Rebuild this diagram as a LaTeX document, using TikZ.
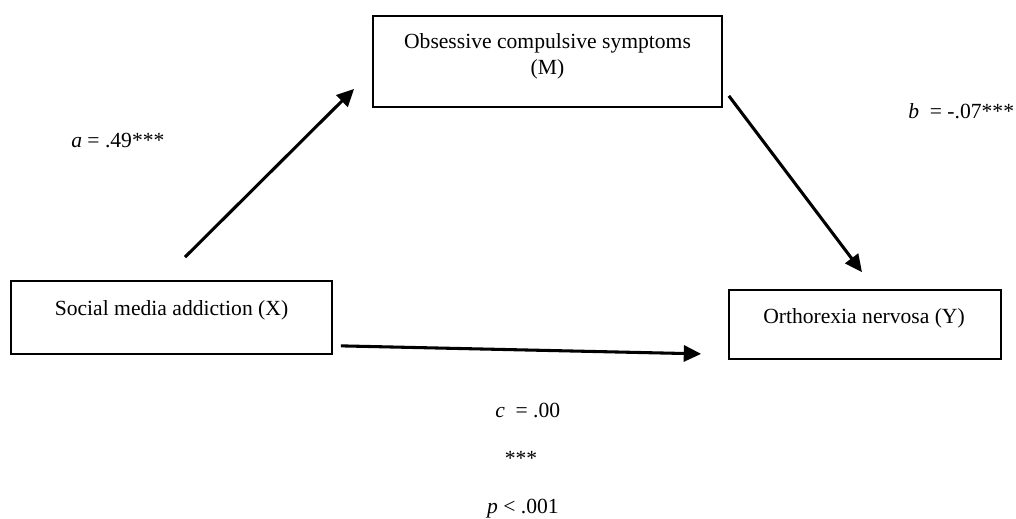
\documentclass[tikz,border=0pt]{standalone}
\usepackage{fontspec}
\setmainfont{Liberation Serif}
\usetikzlibrary{arrows.meta,calc,positioning}
\tikzset{
  varbox/.style={draw,line width=1.3pt,inner sep=0pt},
  boxtext/.style={inner sep=0pt,align=center,font=\fontsize{16.2}{18.8}\selectfont},
  coef/.style={inner sep=0pt,font=\fontsize{16.2}{18.8}\selectfont},
  effect/.style={-{Triangle[length=13pt,width=12pt]},line width=2.3pt}
}

\begin{document}
\begin{tikzpicture}[x=0.75pt,y=-0.75pt]
  \useasboundingbox (0,0) rectangle (1016,518);
  \node[varbox,minimum width=261.75pt,minimum height=68.25pt] (ocs) at (547.5,61.5) {};
  \node[varbox,minimum width=240.75pt,minimum height=54.75pt] (sma) at (171.5,317.5) {};
  \node[varbox,minimum width=204pt,minimum height=51.75pt] (on) at (865,324.5) {};
  \node[boxtext,anchor=base] (ocstxt) at (547.5,74) {Obsessive compulsive symptoms\\(M)};
  \node[boxtext,anchor=base] (smatxt) at (171.5,315) {Social media addiction (X)};
  \node[boxtext,anchor=base] (ontxt) at (864,323) {Orthorexia nervosa (Y)};
  \draw[effect] ($(sma.north)+(13.5,-23)$) -- ($(ocs.south west)+(-18,-19)$);
  \draw[effect] ($(ocs.south east)+(6,-12)$) -- ($(on.north)+(-3,-17)$);
  \draw[effect] ($(sma.south east)+(8,-9)$) -- ($(on.south west)+(-27,-6)$);
  \node[coef,anchor=base west] (alab) at (71,147) {\textit{a} = .49***};
  \node[coef,anchor=base west] (blab) at (908,118) {\textit{b}\ \ = -.07***};
  \node[coef,anchor=base west] (clab) at (495,417) {\textit{c}\ \ = .00};
  \node[coef,anchor=base] (stars) at (521,465) {***};
  \node[coef,anchor=base] (plab) at (523,513) {\textit{p} < .001};
\end{tikzpicture}
\end{document}
